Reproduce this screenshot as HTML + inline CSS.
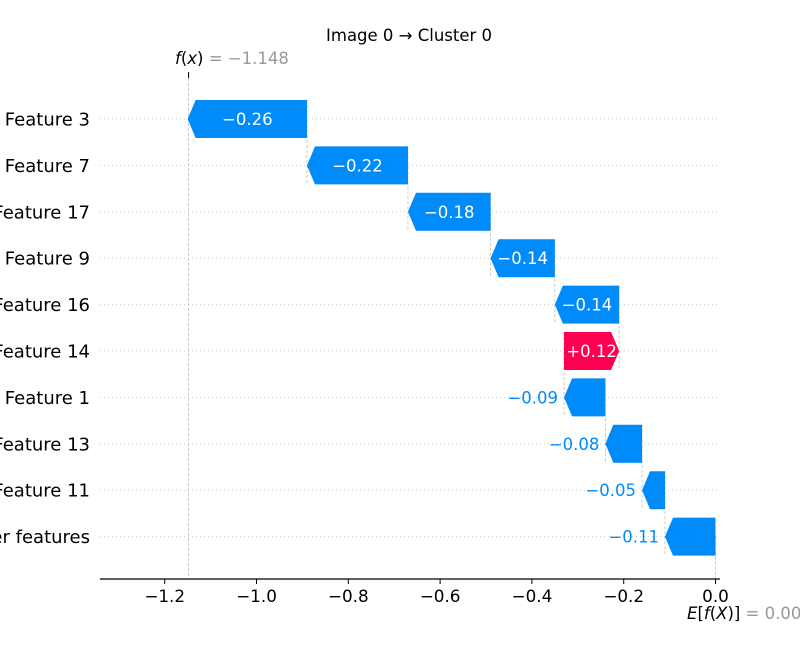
<!DOCTYPE html>
<html><head><meta charset="utf-8"><style>
body{margin:0;background:#fff}
svg{display:block;font-family:"DejaVu Sans","Liberation Sans",sans-serif}
</style></head><body>
<svg id="chart" width="800" height="650" viewBox="0 0 800 650"></svg>
<script>
const features=["Feature 3","Feature 7","Feature 17","Feature 9","Feature 16","Feature 14","Feature 1","Feature 13","Feature 11","9 other features"];
const shapValues=[-0.26,-0.22,-0.18,-0.14,-0.14,0.12,-0.09,-0.08,-0.05,-0.11];
const valueLabels=["\u22120.26","\u22120.22","\u22120.18","\u22120.14","\u22120.14","+0.12","\u22120.09","\u22120.08","\u22120.05","\u22120.11"];
const tickValues=[-1.2,-1.0,-0.8,-0.6,-0.4,-0.2,0.0];
const tickLabels=["\u22121.2","\u22121.0","\u22120.8","\u22120.6","\u22120.4","\u22120.2","0.0"];
const baseValue=0.0;
const fxValue=-1.148;

const NS="http://www.w3.org/2000/svg";
const svg=document.getElementById('chart');
const x=v=>715.5+459*v;
const rowY=i=>119+46.4*i;
const BH=38, D=8, BLUE="#008bfb", RED="#ff0051";
function mk(tag,attrs,parent){const e=document.createElementNS(NS,tag);for(const k in attrs)e.setAttribute(k,attrs[k]);(parent||svg).appendChild(e);return e;}

const n=features.length;
const ends=new Array(n), starts=new Array(n);
let cur=baseValue;
for(let i=n-1;i>=0;i--){starts[i]=cur;cur+=shapValues[i];ends[i]=cur;}

for(let i=0;i<n;i++){
  const g=mk('line',{x1:100,x2:718,y1:rowY(i),y2:rowY(i),stroke:'#ccc','stroke-width':1,'stroke-dasharray':'1,3'});
  
  
}
const fl=mk('line',{x1:x(fxValue),x2:x(fxValue),y1:73,y2:579,stroke:'#bbb','stroke-width':0.8,'stroke-dasharray':'3,2'});


const ft=mk('line',{x1:x(fxValue),x2:x(fxValue),y1:72,y2:78,stroke:'#000','stroke-width':1});


const el=mk('line',{x1:x(baseValue),x2:x(baseValue),y1:rowY(n-1),y2:585,stroke:'#bbb','stroke-width':0.8,'stroke-dasharray':'3,2'});



for(let i=0;i<n-1;i++){
  const c=mk('line',{x1:x(ends[i+1]),x2:x(ends[i+1]),y1:rowY(i)-BH/2,y2:rowY(i+1)+BH/2,stroke:'#bbb','stroke-width':0.8,'stroke-dasharray':'3,2'});
  
  
}

for(let i=0;i<n;i++){
  const y=rowY(i), t=y-BH/2, b=y+BH/2;
  const xs=x(starts[i]), xe=x(ends[i]);
  const w=Math.abs(xe-xs);
  const d=Math.min(D,w);
  let pts;
  if(shapValues[i]<0){
    pts=[[xs,t],[xe+d,t],[xe,y],[xe+d,b],[xs,b]];
  } else {
    pts=[[xs,t],[xe-d,t],[xe,y],[xe-d,b],[xs,b]];
  }
  const p=mk('polygon',{points:pts.map(q=>q.join(',')).join(' '),fill:shapValues[i]<0?BLUE:RED});
  
  
  const inside=w>53;
  let tx;
  if(inside){tx=(xs+xe)/2;}
  else {tx=Math.min(xs,xe)-6;}
  const lab=mk('text',{x:tx,y:y+6,'font-size':16.5,fill:inside?'#fff':(shapValues[i]<0?BLUE:RED),'text-anchor':inside?'middle':'end'});
  lab.textContent=valueLabels[i];
  
  
  const fn=mk('text',{x:90,y:y+6.5,'font-size':18,fill:'#000','text-anchor':'end'});
  fn.textContent=features[i];
  
  
}

const ax=mk('line',{x1:100,x2:720,y1:579,y2:579,stroke:'#000','stroke-width':1.2});


tickValues.forEach((v,i)=>{
  const tl=mk('line',{x1:x(v),x2:x(v),y1:579,y2:584,stroke:'#000','stroke-width':1});
  
  
  const tt=mk('text',{x:x(v),y:602,'font-size':16.8,'text-anchor':'middle',fill:'#000'});
  tt.textContent=tickLabels[i];
  
  
});
</script>
<div style="position:absolute;left:0;top:0;width:800px;height:650px;pointer-events:none;font-family:'DejaVu Sans','Liberation Sans',sans-serif">
  <div style="position:absolute;left:326px;top:26px;font-size:16.5px;color:#000;white-space:nowrap">Image 0 → Cluster 0</div>
  <div style="position:absolute;left:175px;top:49px;font-size:16.5px;white-space:nowrap"><i>f</i>(<i>x</i>)<span style="color:#999"> = −1.148</span></div>
  <div style="position:absolute;left:687px;top:604px;font-size:16.5px;white-space:nowrap"><i>E</i>[<i>f</i>(<i>X</i>)]<span style="color:#999"> = 0.000</span></div>
</div>
</body></html>
